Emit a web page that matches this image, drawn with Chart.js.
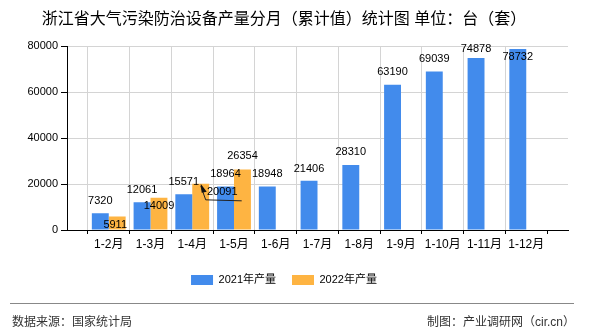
<!DOCTYPE html>
<html><head><meta charset="utf-8">
<script src="https://cdn.jsdelivr.net/npm/chart.js@4/dist/chart.umd.min.js"></script>
<style>html,body{margin:0;padding:0;background:#fff}</style>
</head><body>
<canvas id="c" width="590" height="330"></canvas>
<script>
// ---- data ----
const categories = ['1-2月','1-3月','1-4月','1-5月','1-6月','1-7月','1-8月','1-9月','1-10月','1-11月','1-12月'];
const output2021 = [7320, 12061, 15571, 18964, 18948, 21406, 28310, 63190, 69039, 74878, 78732];
const output2022 = [5911, 14009, 20091, 26354, null, null, null, null, null, null, null];
const seriesNames = ['2021年产量', '2022年产量'];
const yTickValues = [0, 20000, 40000, 60000, 80000];
const titleText = '浙江省大气污染防治设备产量分月（累计值）统计图 单位：台（套）';
const sourceText = '数据来源：国家统计局';
const makerText = '制图：产业调研网（cir.cn）';

// ---- style ----
const FONT = "'Liberation Sans','Noto Sans CJK SC',sans-serif";
const colors = ['#428BEC', '#FEB442'];
const labelDy = [
  [-12, -12, -12.5, -12.5, -12.5, -12, -12.5, -12.5, -12, -9, 8],
  [8.5, 8, 7.7, -13, 0, 0, 0, 0, 0, 0, 0]
];
const labelDx = [
  [0, 0, 0, 0, 0, 0, 0, 0, 0, 0, 0],
  [-2, 0, 21.5, 0, 0, 0, 0, 0, 0, 0, 0]
];
const leader = {dataset: 1, index: 2};

// axis slots: an empty slot before the first and after the last category
const axisLabels = [''].concat(categories, ['']);
const pad = arr => [null].concat(arr, [null]);

Chart.defaults.font.family = FONT;
Chart.defaults.color = '#000';

const valueLabels = {
  id: 'valueLabels',
  afterDatasetsDraw(chart) {
    const ctx = chart.ctx;
    ctx.save();
    ctx.font = '11px ' + FONT;
    ctx.fillStyle = '#000';
    ctx.textAlign = 'center';
    ctx.textBaseline = 'middle';
    chart.data.datasets.forEach((ds, di) => {
      const meta = chart.getDatasetMeta(di);
      meta.data.forEach((bar, j) => {
        const v = ds.data[j];
        if (v == null) return;
        const k = j - 1;
        if (di === leader.dataset && k === leader.index) {
          ctx.strokeStyle = '#222';
          ctx.lineWidth = 1;
          ctx.beginPath();
          ctx.moveTo(bar.x, bar.y + 2);
          ctx.lineTo(bar.x + 5, bar.y + 16);
          ctx.lineTo(bar.x + 41, bar.y + 17);
          ctx.stroke();
          ctx.beginPath();
          ctx.moveTo(bar.x, bar.y);
          ctx.lineTo(bar.x + 6, bar.y + 8);
          ctx.lineTo(bar.x + 1, bar.y + 9);
          ctx.closePath();
          ctx.fillStyle = '#111';
          ctx.fill();
          ctx.fillStyle = '#000';
        }
        ctx.fillText(String(v), bar.x + labelDx[di][k], bar.y + labelDy[di][k]);
      });
    });
    ctx.restore();
  }
};

const footer = {
  id: 'footer',
  afterDraw(chart) {
    const ctx = chart.ctx;
    ctx.save();
    ctx.strokeStyle = '#888';
    ctx.lineWidth = 1;
    ctx.beginPath();
    ctx.moveTo(10, 303.5);
    ctx.lineTo(574, 303.5);
    ctx.stroke();
    ctx.font = '12px ' + FONT;
    ctx.fillStyle = '#333';
    ctx.textBaseline = 'middle';
    ctx.textAlign = 'left';
    ctx.fillText(sourceText, 12, 323);
    ctx.textAlign = 'right';
    ctx.fillText(makerText, 575, 323);
    ctx.restore();
  }
};

new Chart(document.getElementById('c'), {
  type: 'bar',
  data: {
    labels: axisLabels,
    datasets: [
      {label: seriesNames[0], data: pad(output2021), backgroundColor: colors[0], barPercentage: 1, categoryPercentage: 0.81},
      {label: seriesNames[1], data: pad(output2022), backgroundColor: colors[1], barPercentage: 1, categoryPercentage: 0.81}
    ]
  },
  options: {
    responsive: false,
    animation: false,
    devicePixelRatio: 1,
    layout: {padding: {left: 0, right: 22, top: 0, bottom: 34.5}},
    plugins: {
      title: {display: true, text: titleText, color: '#000', font: {size: 16, weight: 'normal', family: FONT}, padding: {top: 10, bottom: 17}},
      legend: {
        display: true, position: 'bottom',
        labels: {boxWidth: 22, boxHeight: 10, padding: 16, color: '#000', font: {size: 11, family: FONT}}
      },
      tooltip: {enabled: false}
    },
    scales: {
      x: {
        type: 'category',
        offset: false,
        grid: {
          color: c => (c.index === axisLabels.length - 1 ? 'rgba(0,0,0,0)' : '#d4d4d4'),
          tickColor: '#000', tickLength: 4, lineWidth: 1
        },
        border: {color: '#000', width: 1},
        ticks: {autoSkip: false, maxRotation: 0, padding: 3, color: '#000', font: {size: 12, family: FONT}},
        afterFit: s => { s.height = 28.5; }
      },
      y: {
        min: 0, max: 80000,
        afterBuildTicks: s => { s.ticks = yTickValues.map(v => ({value: v})); },
        grid: {color: '#d4d4d4', tickColor: '#000', tickLength: 6},
        border: {color: '#000', width: 1},
        ticks: {padding: 3, color: '#000', font: {size: 11, family: FONT}, callback: v => String(v)},
        afterFit: s => { s.width = 67; }
      }
    }
  },
  plugins: [valueLabels, footer]
});
</script>
</body></html>
